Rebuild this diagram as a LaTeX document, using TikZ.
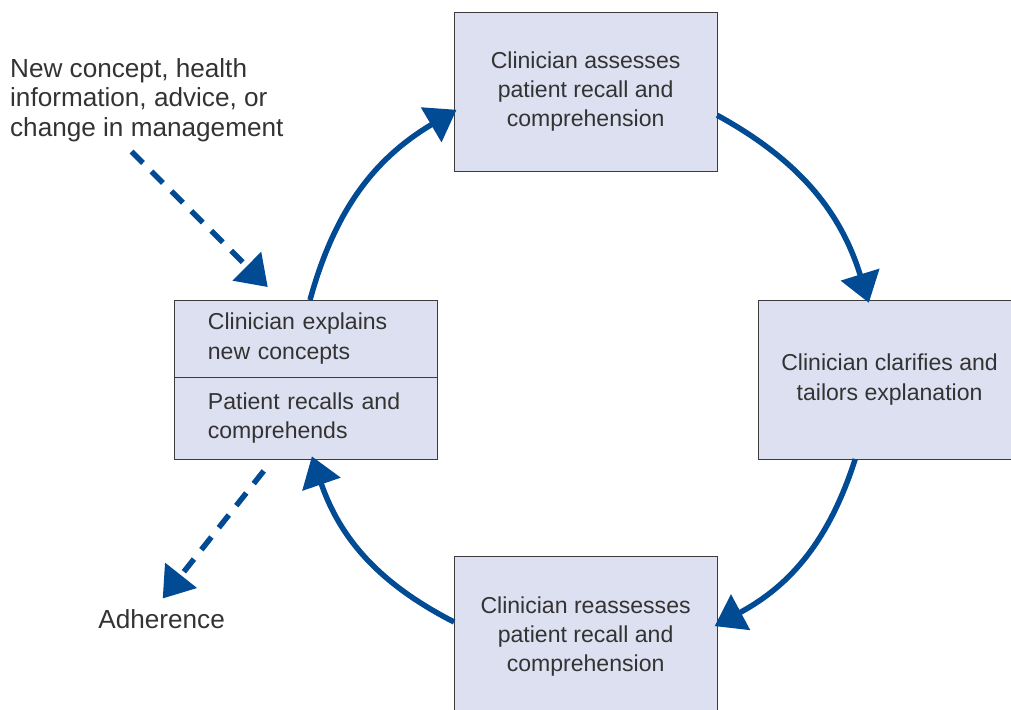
\documentclass[tikz,border=0pt]{standalone}
\usepackage{fontspec}
\setmainfont{Liberation Sans}
\usetikzlibrary{positioning,arrows.meta}
\definecolor{cycleblue}{RGB}{0,75,147}
\definecolor{boxfill}{RGB}{221,224,240}
\definecolor{boxline}{RGB}{60,60,60}
\definecolor{txt}{RGB}{51,51,51}

\begin{document}
\begin{tikzpicture}[
    font=\fontsize{16.4}{20.8}\selectfont, text=txt,
    stage/.style={draw=boxline, line width=0.7pt, fill=boxfill, minimum width=6.575cm, minimum height=3.975cm, align=center, inner sep=0pt, outer sep=0pt},
    half/.style={draw=boxline, line width=0.7pt, fill=boxfill, text width=4.925cm, inner xsep=0.825cm, inner ysep=0pt, outer sep=0pt, align=left},
    label/.style={font=\fontsize{18.6}{20.9}\selectfont},
    flow/.style={-{Triangle[length=21pt,width=28pt]}, line width=3.9pt, draw=cycleblue, shorten >=-2pt},
    cue/.style={flow, dash pattern=on 11.5pt off 8.5pt}
]
    \useasboundingbox (0,0) rectangle (25.275,-17.75);
    \clip (0,0) rectangle (25.275,-17.75);

    % Nodes
    \node[stage] (assess) at (14.64,-2.29) {Clinician assesses\\patient recall and\\comprehension};
    \node[stage] (clarify) at (22.24,-9.49) {Clinician clarifies and\\tailors explanation};
    \node[stage] (reassess) at (14.64,-15.91) {Clinician reassesses\\patient recall and\\comprehension};
    \node[half, minimum height=1.925cm] (explain) at (7.66,-8.4625) {Clinician explains\\new concepts};
    \node[half, minimum height=2.05cm, below=0pt of explain] (recall) {Patient recalls and\\comprehends};

    \node[label, align=left, anchor=west] (news) at (0.13,-2.5) {New concept, health\\information, advice, or\\change in management};
    \node[label] (adherence) at (4.04,-15.475) {Adherence};

    % Arrows
    \draw[flow] ([xshift=0.09cm]explain.north) to[bend left=22] ([yshift=-0.49cm]assess.west);
    \draw[flow] ([yshift=-0.59cm]assess.east) to[bend left=22] ([xshift=-0.54cm]clarify.north);
    \draw[flow] ([xshift=-0.86cm]clarify.south) to[bend left=22] ([yshift=0.29cm]reassess.east);
    \draw[flow] ([yshift=0.36cm]reassess.west) to[bend left=22] ([xshift=0.16cm]recall.south);

    \draw[cue, shorten <=0.18cm, shorten >=0.46cm] ([xshift=-0.51cm]news.south) -- ([xshift=-0.64cm]explain.north);
    \draw[cue, shorten <=0.38cm, shorten >=0.19cm] ([xshift=-0.83cm]recall.south) -- ([xshift=-0.09cm]adherence.north);
\end{tikzpicture}
\end{document}
